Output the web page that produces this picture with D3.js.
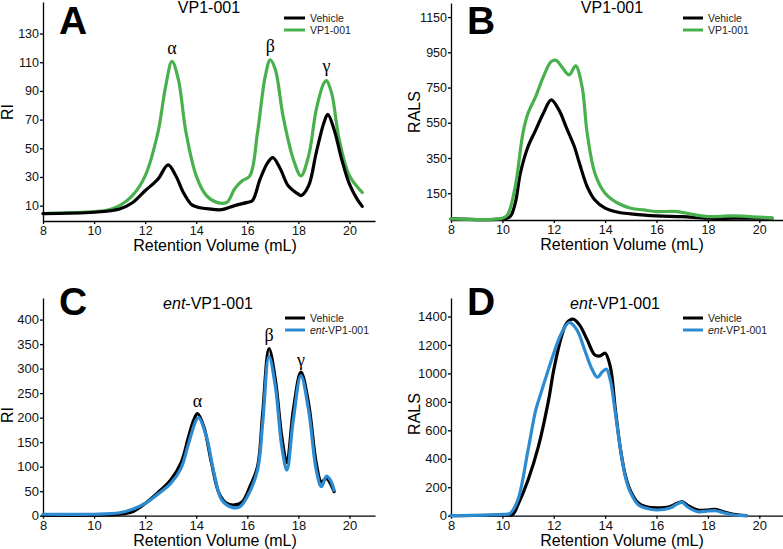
<!DOCTYPE html>
<html><head><meta charset="utf-8">
<script src="https://cdn.jsdelivr.net/npm/d3@7"></script>
<style>
body{margin:0;background:#fff;}
svg{display:block;}
</style></head><body>
<svg id="c" width="783" height="549"></svg>
<script>
// ---- Data (retention volume mL, signal) ----
const A_vehicle_x = [8,10,11,11.5,12,12.5,12.9,13.2,13.5,13.8,14,14.5,15,15.5,16,16.2,16.5,16.8,17,17.3,17.6,18,18.1,18.4,18.7,19,19.15,19.4,19.7,20,20.3,20.5];
const A_vehicle_y = [4.5,5.4,7.7,12,20.4,28.5,38.4,30.8,19,11,9.3,7.7,7.2,10,12.3,13.5,28.5,40,43.5,35.4,23.9,18,17,23.9,47,67.8,73.6,63,42,25,14.6,9.5];
const A_drug_x = [8,10,10.5,11,11.5,12,12.5,12.8,13.05,13.3,13.6,14,14.4,14.8,15.2,15.5,15.8,16.1,16.4,16.7,16.9,17.1,17.4,17.8,18.1,18.4,18.7,19,19.1,19.3,19.6,20,20.5];
const A_drug_y = [4.5,5.8,6.8,10,17,30.8,61,93,110.6,98,61,30.8,17,12.3,12.3,21.6,27.3,30.8,61,100,111.7,104.8,72.4,42.4,30.8,44.7,77,95.5,97.2,88.6,56,30.8,19.2];

const B_vehicle_x = [8,10,10.3,10.5,10.7,11,11.3,11.6,11.9,12.2,12.5,12.8,13,13.3,13.6,14,14.5,15,16,17,18,19,20.5];
const B_vehicle_y = [4,4,17,93,264,415,510,605,680,623,519,415,320,188,112,65,42,33,21,17,8,8,8];
const B_drug_x = [8,10,10.2,10.5,10.8,11,11.3,11.6,11.9,12.1,12.3,12.6,12.85,13.1,13.3,13.6,14,14.5,15,15.5,16,16.8,17.5,18,19,20,20.5];
const B_drug_y = [4,8,27,188,491,605,700,813,898,904,870,822,873,756,491,264,150,93,65,55,46,46,27,17,21,14,10];

const C_vehicle_x = [8,10,11,11.5,12,12.5,13,13.4,13.7,13.9,14.05,14.3,14.6,14.9,15.2,15.5,15.8,16.1,16.4,16.6,16.85,17.1,17.35,17.55,17.8,18.1,18.4,18.7,18.9,19.1,19.25,19.4];
const C_vehicle_y = [1,1,3,8,25,47,73,107,161,195,208,181,107,45,25,22,28,59,100,208,341,277,161,108,215,293,229,107,69,76,66,49];
const C_ent_x = [8,10,11,11.5,12,12.5,13,13.4,13.7,14,14.1,14.4,14.7,15,15.4,15.7,16,16.4,16.6,16.85,17.1,17.35,17.55,17.8,18.1,18.4,18.7,18.9,19.1,19.25,19.4];
const C_ent_y = [3,3,6,13,25,44,66,96,147,195,200,161,86,32,17,18,39,93,188,325,263,141,93,195,285,215,93,59,81,73,52];

const D_vehicle_x = [8,10,10.4,10.6,11,11.4,11.8,12,12.3,12.5,12.75,13,13.3,13.6,13.8,14,14.2,14.4,14.6,14.8,15,15.3,15.6,16,16.5,16.8,17,17.2,17.6,18,18.3,18.6,19,19.5];
const D_vehicle_y = [0,5,9,75,251,485,814,1025,1259,1353,1381,1341,1236,1130,1123,1142,1048,743,462,274,169,87,63,56,63,87,98,75,40,40,45,28,9,0];
const D_ent_x = [8,10,10.3,10.6,11,11.3,11.5,12,12.3,12.6,12.9,13.2,13.5,13.7,13.9,14.05,14.2,14.4,14.6,14.8,15,15.3,15.6,16,16.5,16.8,17,17.2,17.6,18,18.3,18.6,19,19.5];
const D_ent_y = [0,9,16,110,462,743,861,1142,1283,1358,1306,1166,1025,973,1013,1030,954,720,462,263,157,75,52,40,52,82,94,63,28,33,35,21,5,0];

const xTicks = [8,10,12,14,16,18,20];
const A_yTicks = [10,30,50,70,90,110,130];
const B_yTicks = [150,350,550,750,950,1150];
const C_yTicks = [0,50,100,150,200,250,300,350,400];
const D_yTicks = [0,200,400,600,800,1000,1200,1400];

const BLACK = "#000000", GREEN = "#48b04c", BLUE = "#2d8bd2";
const FONT = "'Liberation Sans', Arial, Helvetica, sans-serif";
const SERIF = "'Liberation Serif', 'Times New Roman', serif";

const svg = d3.select("#c");

function panel(cfg){
  const g = svg.append("g");
  const x = d3.scaleLinear().domain([8, cfg.xMax]).range([cfg.left, cfg.right]);
  const y = d3.scaleLinear().domain(cfg.yDomain).range([cfg.bottom, cfg.top]);
  const xa = g.append("g").attr("transform",`translate(0,${cfg.bottom})`)
    .call(d3.axisBottom(x).tickValues(xTicks).tickFormat(d3.format("d")).tickSize(3).tickSizeOuter(0).tickPadding(2));
  const ya = g.append("g").attr("transform",`translate(${cfg.left},0)`)
    .call(d3.axisLeft(y).tickValues(cfg.yTicks).tickFormat(d3.format("d")).tickSize(3).tickSizeOuter(0).tickPadding(1));
  [xa,ya].forEach(a=>{
    a.selectAll("path,line").attr("stroke","#000").attr("stroke-width",1.3);
    a.selectAll("text").style("font-size",cfg.tickFont+"px").attr("fill","#111").style("font-family",FONT);
  });
  const line = d3.line().x(d=>x(d[0])).y(d=>y(d[1])).curve(d3.curveCatmullRom.alpha(0.5));
  cfg.series.forEach(s=>{
    const pts = s.xs.map((v,i)=>[v,s.ys[i]]);
    g.append("path").attr("d",line(pts)).attr("fill","none")
      .attr("stroke",s.color).attr("stroke-width",3.2).attr("stroke-linejoin","round").attr("stroke-linecap","round");
  });
  // letter
  g.append("text").attr("x",cfg.left+16).attr("y",cfg.letterY).style("font-size","39px").style("font-weight","bold")
    .style("font-family",FONT).text(cfg.letter);
  // title
  const t = g.append("text").attr("x",cfg.titleX).attr("y",cfg.titleY).attr("text-anchor","middle")
    .style("font-size","16px").style("font-family",FONT);
  if(cfg.ent){ t.append("tspan").style("font-style","italic").text("ent"); t.append("tspan").text("-VP1-001"); }
  else t.text("VP1-001");
  // axis titles
  g.append("text").attr("x",cfg.xTitleX).attr("y",cfg.bottom+30).attr("text-anchor","middle")
    .style("font-size","16px").style("font-family",FONT).text("Retention Volume (mL)");
  g.append("text").attr("transform",`translate(${cfg.yTitleX},${cfg.yTitleY}) rotate(-90)`)
    .attr("text-anchor","middle").style("font-size","16px").style("font-family",FONT).text(cfg.yTitle);
  // legend
  cfg.series.slice().sort((a,b)=>a.legendOrder-b.legendOrder).forEach((s,i)=>{
    const ly = cfg.legendY + i*12;
    g.append("line").attr("x1",cfg.legendX).attr("x2",cfg.legendX+cfg.legendLen).attr("y1",ly).attr("y2",ly)
      .attr("stroke",s.color).attr("stroke-width",3);
    const lt = g.append("text").attr("x",cfg.legendX+cfg.legendLen+5).attr("y",ly+3.5)
      .style("font-size","10.5px").attr("fill","#222").style("font-family",FONT);
    if(s.ent){ lt.append("tspan").style("font-style","italic").text("ent"); lt.append("tspan").text("-VP1-001"); }
    else lt.text(s.name);
  });
  // greek labels
  (cfg.greek||[]).forEach(gk=>{
    g.append("text").attr("x",x(gk.x)).attr("y",y(gk.y)).attr("text-anchor","middle")
      .style("font-family",SERIF).style("font-size","18px").text(gk.t);
  });
}

panel({letter:"A", left:43, right:375, xMax:21, top:2, bottom:221, yDomain:[-0.7,152], yTicks:A_yTicks, tickFont:12.5,
  letterY:34, titleX:209, titleY:13, yTitle:"RI", yTitleX:13, yTitleY:112, xTitleX:215,
  legendX:284, legendLen:21, legendY:18,
  series:[{name:"VP1-001",color:GREEN,xs:A_drug_x,ys:A_drug_y,legendOrder:1},
          {name:"Vehicle",color:BLACK,xs:A_vehicle_x,ys:A_vehicle_y,legendOrder:0}],
  greek:[{t:"α",x:13.05,y:116},{t:"β",x:16.9,y:117},{t:"γ",x:19.1,y:103}]});

panel({letter:"B", left:451, right:785, xMax:21.0, top:3, bottom:220, yDomain:[-2,1230], yTicks:B_yTicks, tickFont:12.5,
  letterY:34, titleX:612, titleY:13, yTitle:"RALS", yTitleX:420, yTitleY:112, xTitleX:622,
  legendX:683, legendLen:20, legendY:18,
  series:[{name:"Vehicle",color:BLACK,xs:B_vehicle_x,ys:B_vehicle_y,legendOrder:0},
          {name:"VP1-001",color:GREEN,xs:B_drug_x,ys:B_drug_y,legendOrder:1}]});

panel({letter:"C", left:43, right:375, xMax:21, top:298, bottom:515.7, yDomain:[0,444], yTicks:C_yTicks, tickFont:13,
  letterY:315, titleX:208, titleY:309, ent:true, yTitle:"RI", yTitleX:13, yTitleY:415, xTitleX:215,
  legendX:285, legendLen:20, legendY:318,
  series:[{name:"Vehicle",color:BLACK,xs:C_vehicle_x,ys:C_vehicle_y,legendOrder:0},
          {name:"ent-VP1-001",ent:true,color:BLUE,xs:C_ent_x,ys:C_ent_y,legendOrder:1}],
  greek:[{t:"α",x:14.05,y:222},{t:"β",x:16.85,y:357},{t:"γ",x:18.1,y:305}]});

panel({letter:"D", left:451, right:785, xMax:21.0, top:298, bottom:515.7, yDomain:[0,1530], yTicks:D_yTicks, tickFont:13,
  letterY:315, titleX:615, titleY:309, ent:true, yTitle:"RALS", yTitleX:420, yTitleY:414, xTitleX:622,
  legendX:683, legendLen:20, legendY:318,
  series:[{name:"Vehicle",color:BLACK,xs:D_vehicle_x,ys:D_vehicle_y,legendOrder:0},
          {name:"ent-VP1-001",ent:true,color:BLUE,xs:D_ent_x,ys:D_ent_y,legendOrder:1}]});
</script>
</body></html>
